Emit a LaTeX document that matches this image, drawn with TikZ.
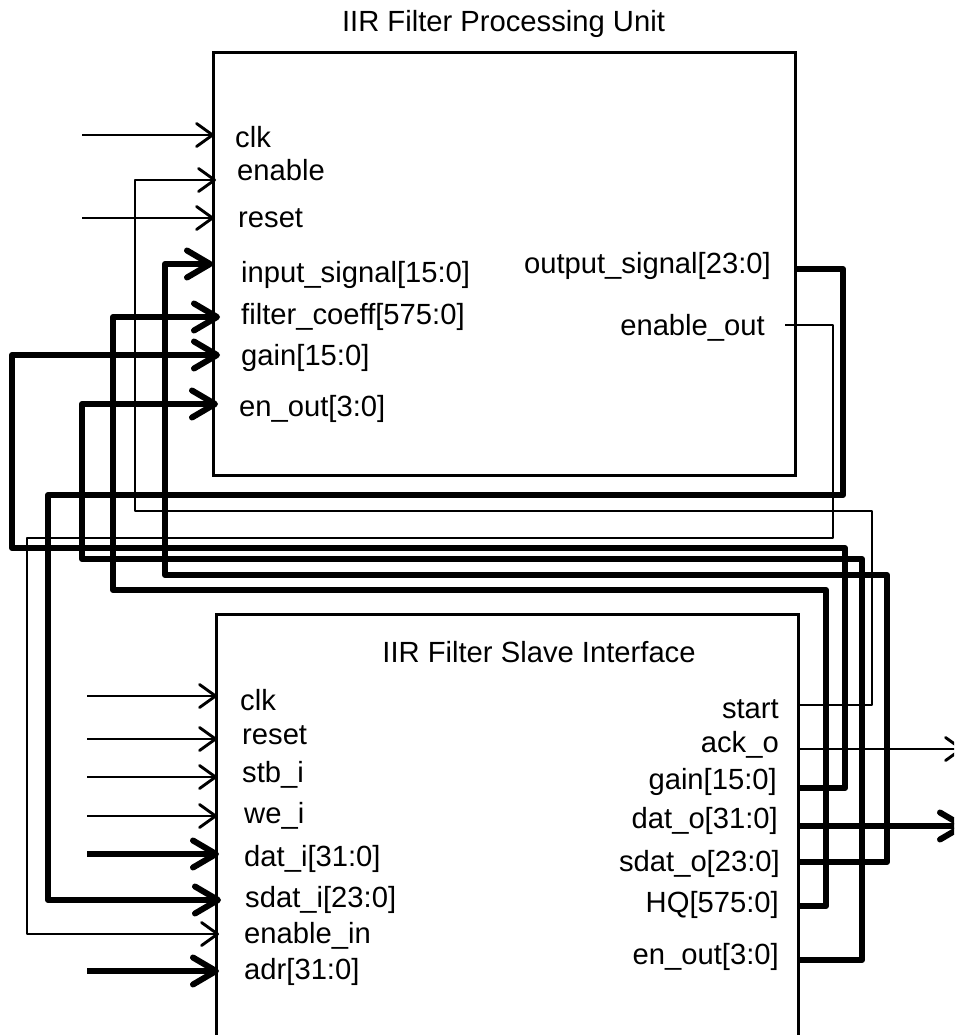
\documentclass[tikz,border=0pt]{standalone}
\usepackage{fontspec}
\setmainfont{Liberation Sans}
\usetikzlibrary{arrows.meta}
\tikzset{
  x=1pt,y=-1pt,
  block/.style={draw,line width=3pt,outer sep=0pt,anchor=north west,inner sep=0pt},
  lab/.style={inner sep=0pt,font=\fontsize{29.2}{33}\selectfont,text=black},
  pinl/.style={lab,anchor=base west},
  pinr/.style={lab,anchor=base east},
  thin wire/.style={draw,line width=2.9pt,line join=round},
  thick wire/.style={draw,line width=6pt,line join=round},
  thin arrow/.style={thin wire,-{Straight Barb[length=16pt,width=23pt,line width=2.9pt,round]}},
  thick arrow/.style={thick wire,-{Straight Barb[length=23pt,width=27pt,line width=6pt,round]}},
}
\begin{document}
\begin{tikzpicture}
\useasboundingbox (0,0) rectangle (954,1035);
\begin{scope}
\clip (0,0) rectangle (954,1035);
% blocks
\node[block,minimum width=582pt,minimum height=423pt] (pu) at (213.3,52.7) {};
\node[block,minimum width=581.5pt,minimum height=440pt] (si) at (216.7,614.5) {};
% free ends
\foreach \n/\x/\y in {a1/82/135,a2/82/218,b1/87/696,b2/87/739,b3/87/777,b4/87/816,b5/87/854,b6/87/971,o1/963/749,o2/966/826}
  \coordinate (\n) at (\x,\y);
% unit pins
\coordinate (pclk) at (214,135);
\coordinate (pen) at (216,180);
\coordinate (prst) at (214,218);
\coordinate (pin) at (213,264);
\coordinate (pfc) at (220,317);
\coordinate (pgain) at (220,355);
\coordinate (peo) at (218,404);
\coordinate (pout) at (795,269);
\coordinate (peno) at (785,325);
% slave pins
\coordinate (sclk) at (217,696);
\coordinate (srst) at (217,739);
\coordinate (sstb) at (217,777);
\coordinate (swe) at (217,816);
\coordinate (sdat) at (219,854);
\coordinate (ssd) at (221,900);
\coordinate (sen) at (219,934);
\coordinate (sadr) at (219,971);
\coordinate (sstart) at (798,705);
\coordinate (sack) at (798,749);
\coordinate (sgain) at (798,788);
\coordinate (sdo) at (798,826);
\coordinate (ssdo) at (798,862);
\coordinate (shq) at (798,906);
\coordinate (seo) at (798,960);
% plain inputs
\draw[thin arrow] (a1) -- (pclk);
\draw[thin arrow] (a2) -- (prst);
\draw[thin arrow] (b1) -- (sclk);
\draw[thin arrow] (b2) -- (srst);
\draw[thin arrow] (b3) -- (sstb);
\draw[thin arrow] (b4) -- (swe);
\draw[thick arrow] (b5) -- (sdat);
\draw[thick arrow] (b6) -- (sadr);
\draw[thin arrow] (sack) -- (o1);
\draw[thick arrow] (sdo) -- (o2);
% routed wires
\draw[thin arrow] (sstart) -| (872,511) -| (135,180) -- (pen);
\draw[thin arrow] (peno) -| (833,538) -| (27,934) -- (sen);
\draw[thick arrow] (pout) -| (843,495) -| (48,900) -- (ssd);
\draw[thick arrow] (sgain) -| (845,548) -| (12,355) -- (pgain);
\draw[thick arrow] (seo) -| (862,559) -| (82,404) -- (peo);
\draw[thick arrow] (ssdo) -| (887,575) -| (165,264) -- (pin);
\draw[thick arrow] (shq) -| (826,590) -| (113,317) -- (pfc);
\end{scope}
% labels
\node[lab,anchor=base] (t1) at (503.5,32) {IIR Filter Processing Unit};
\node[lab,anchor=base] (t2) at (539,662) {IIR Filter Slave Interface};
\node[pinl] (l1) at (235,148) {clk};
\node[pinl] (l2) at (237,181) {enable};
\node[pinl] (l3) at (238,227) {reset};
\node[pinl] (l4) at (241,282) {input\_signal[15:0]};
\node[pinl] (l5) at (241,324) {filter\_coeff[575:0]};
\node[pinl] (l6) at (241,365) {gain[15:0]};
\node[pinl] (l7) at (239,416) {en\_out[3:0]};
\node[pinr] (r1) at (771,273) {output\_signal[23:0]};
\node[pinr] (r2) at (765,335) {enable\_out};
\node[pinl] (m1) at (240,710) {clk};
\node[pinl] (m2) at (242,744) {reset};
\node[pinl] (m3) at (242,782) {stb\_i};
\node[pinl] (m4) at (244,823) {we\_i};
\node[pinl] (m5) at (244,866) {dat\_i[31:0]};
\node[pinl] (m6) at (245,907) {sdat\_i[23:0]};
\node[pinl] (m7) at (244,943) {enable\_in};
\node[pinl] (m8) at (244,979) {adr[31:0]};
\node[pinr] (n1) at (779,718) {start};
\node[pinr] (n2) at (779,752) {ack\_o};
\node[pinr] (n3) at (777,789) {gain[15:0]};
\node[pinr] (n4) at (778,828) {dat\_o[31:0]};
\node[pinr] (n5) at (780,871) {sdat\_o[23:0]};
\node[pinr] (n6) at (779,912) {HQ[575:0]};
\node[pinr] (n7) at (779,964) {en\_out[3:0]};
\end{tikzpicture}
\end{document}
